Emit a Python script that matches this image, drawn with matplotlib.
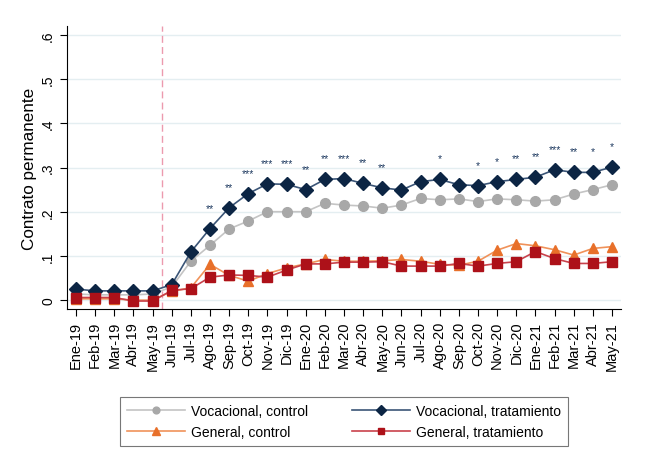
import matplotlib
matplotlib.use("Agg")
import matplotlib.pyplot as plt
import numpy as np

plt.rcParams['font.family'] = ['Liberation Sans', 'DejaVu Sans']

# Months on the x axis
months = ["Ene-19", "Feb-19", "Mar-19", "Abr-19", "May-19", "Jun-19", "Jul-19",
          "Ago-19", "Sep-19", "Oct-19", "Nov-19", "Dic-19", "Ene-20", "Feb-20",
          "Mar-20", "Abr-20", "May-20", "Jun-20", "Jul-20", "Ago-20", "Sep-20",
          "Oct-20", "Nov-20", "Dic-20", "Ene-21", "Feb-21", "Mar-21", "Abr-21",
          "May-21"]

# Series
voc_control = [0.014, 0.012, 0.012, 0.012, 0.014, 0.030, 0.088, 0.124, 0.161, 0.179,
               0.200, 0.200, 0.200, 0.219, 0.215, 0.213, 0.208, 0.215, 0.230, 0.227,
               0.229, 0.223, 0.229, 0.227, 0.224, 0.227, 0.240, 0.250, 0.261]
voc_trat = [0.025, 0.021, 0.021, 0.021, 0.021, 0.035, 0.109, 0.162, 0.209, 0.241,
            0.263, 0.262, 0.250, 0.273, 0.275, 0.264, 0.254, 0.249, 0.268, 0.273,
            0.261, 0.259, 0.268, 0.273, 0.278, 0.295, 0.289, 0.289, 0.301]
gen_control = [0.003, 0.003, 0.003, 0.000, 0.000, 0.020, 0.028, 0.081, 0.056, 0.043,
               0.060, 0.073, 0.082, 0.092, 0.088, 0.088, 0.089, 0.092, 0.088, 0.081,
               0.079, 0.088, 0.113, 0.128, 0.123, 0.114, 0.102, 0.117, 0.121]
gen_trat = [0.006, 0.006, 0.006, -0.002, -0.002, 0.022, 0.026, 0.052, 0.057, 0.056,
            0.052, 0.068, 0.082, 0.082, 0.086, 0.086, 0.087, 0.077, 0.077, 0.077,
            0.083, 0.077, 0.083, 0.087, 0.110, 0.094, 0.083, 0.083, 0.087]

# Significance stars above the vocational treatment series
stars = ["", "", "", "", "", "", "", "**", "**", "***", "***", "***", "**", "**",
         "***", "**", "**", "", "", "*", "", "*", "*", "**", "**", "***", "**",
         "*", "*"]

x = np.arange(len(months))

fig = plt.figure(figsize=(6.54, 4.77), dpi=100)
ax = fig.add_axes([67/654, 1-310/477, (621-67)/654, (310-27)/477])

ax.plot(x, voc_control, color='#c4c4c4', lw=1.2, marker='o', ms=7,
        mfc='#a8a8a8', mec='#a8a8a8', label='Vocacional, control', zorder=3)
ax.plot(x, voc_trat, color='#3b5577', lw=1.2, marker='D', ms=7.5,
        mfc='#0c2544', mec='#0c2544', label='Vocacional, tratamiento', zorder=4)
ax.plot(x, gen_control, color='#f0925a', lw=1.2, marker='^', ms=7.5,
        mfc='#e8702a', mec='#e8702a', label='General, control', zorder=3)
ax.plot(x, gen_trat, color='#c9424c', lw=1.2, marker='s', ms=7,
        mfc='#ad1119', mec='#ad1119', label='General, tratamiento', zorder=4)

for xi, yi, s in zip(x, voc_trat, stars):
    if s:
        ax.text(xi, yi + 0.036, s, ha='center', va='bottom', fontsize=7.5,
                color='#1f3a60')

ax.axvline(4.5, color='#ec9aae', lw=1.0, ls=(0, (5, 3)), zorder=1)

ax.set_xlim(-0.47, 28.47)
ax.set_ylim(-0.02, 0.62)
yt = [0, 0.1, 0.2, 0.3, 0.4, 0.5, 0.6]
ax.set_yticks(yt)
ax.set_yticklabels(["0", ".1", ".2", ".3", ".4", ".5", ".6"], rotation=90,
                   va='center', fontsize=10)
ax.set_xticks(x)
ax.set_xticklabels(months, rotation=90, fontsize=10.5)
for v in yt:
    ax.axhline(v, color='#e4eef1', lw=1.0, zorder=0)

ax.spines['top'].set_visible(False)
ax.spines['right'].set_visible(False)
ax.spines['left'].set_color('black')
ax.spines['bottom'].set_color('black')
ax.tick_params(direction='out', length=5, width=0.8, colors='black')
ax.set_ylabel("Contrato permanente", fontsize=12.3, labelpad=3)

# legend fills by column, so reorder to get the row layout of the original
handles, labels = ax.get_legend_handles_labels()
order = [0, 2, 1, 3]
leg = fig.legend([handles[i] for i in order], [labels[i] for i in order],
                 loc='lower left', bbox_to_anchor=(120/654, 1-447/477, 448/654, 52/477),
                 mode='expand', ncol=2, fontsize=10, frameon=True, fancybox=False,
                 handlelength=4.2, handletextpad=0.4, borderaxespad=0,
                 columnspacing=2.0, borderpad=0.5, labelspacing=0.5,
                 markerscale=0.7)
leg.get_frame().set_edgecolor('#555555')
leg.get_frame().set_linewidth(0.8)

fig.savefig("out.png", dpi=100)
